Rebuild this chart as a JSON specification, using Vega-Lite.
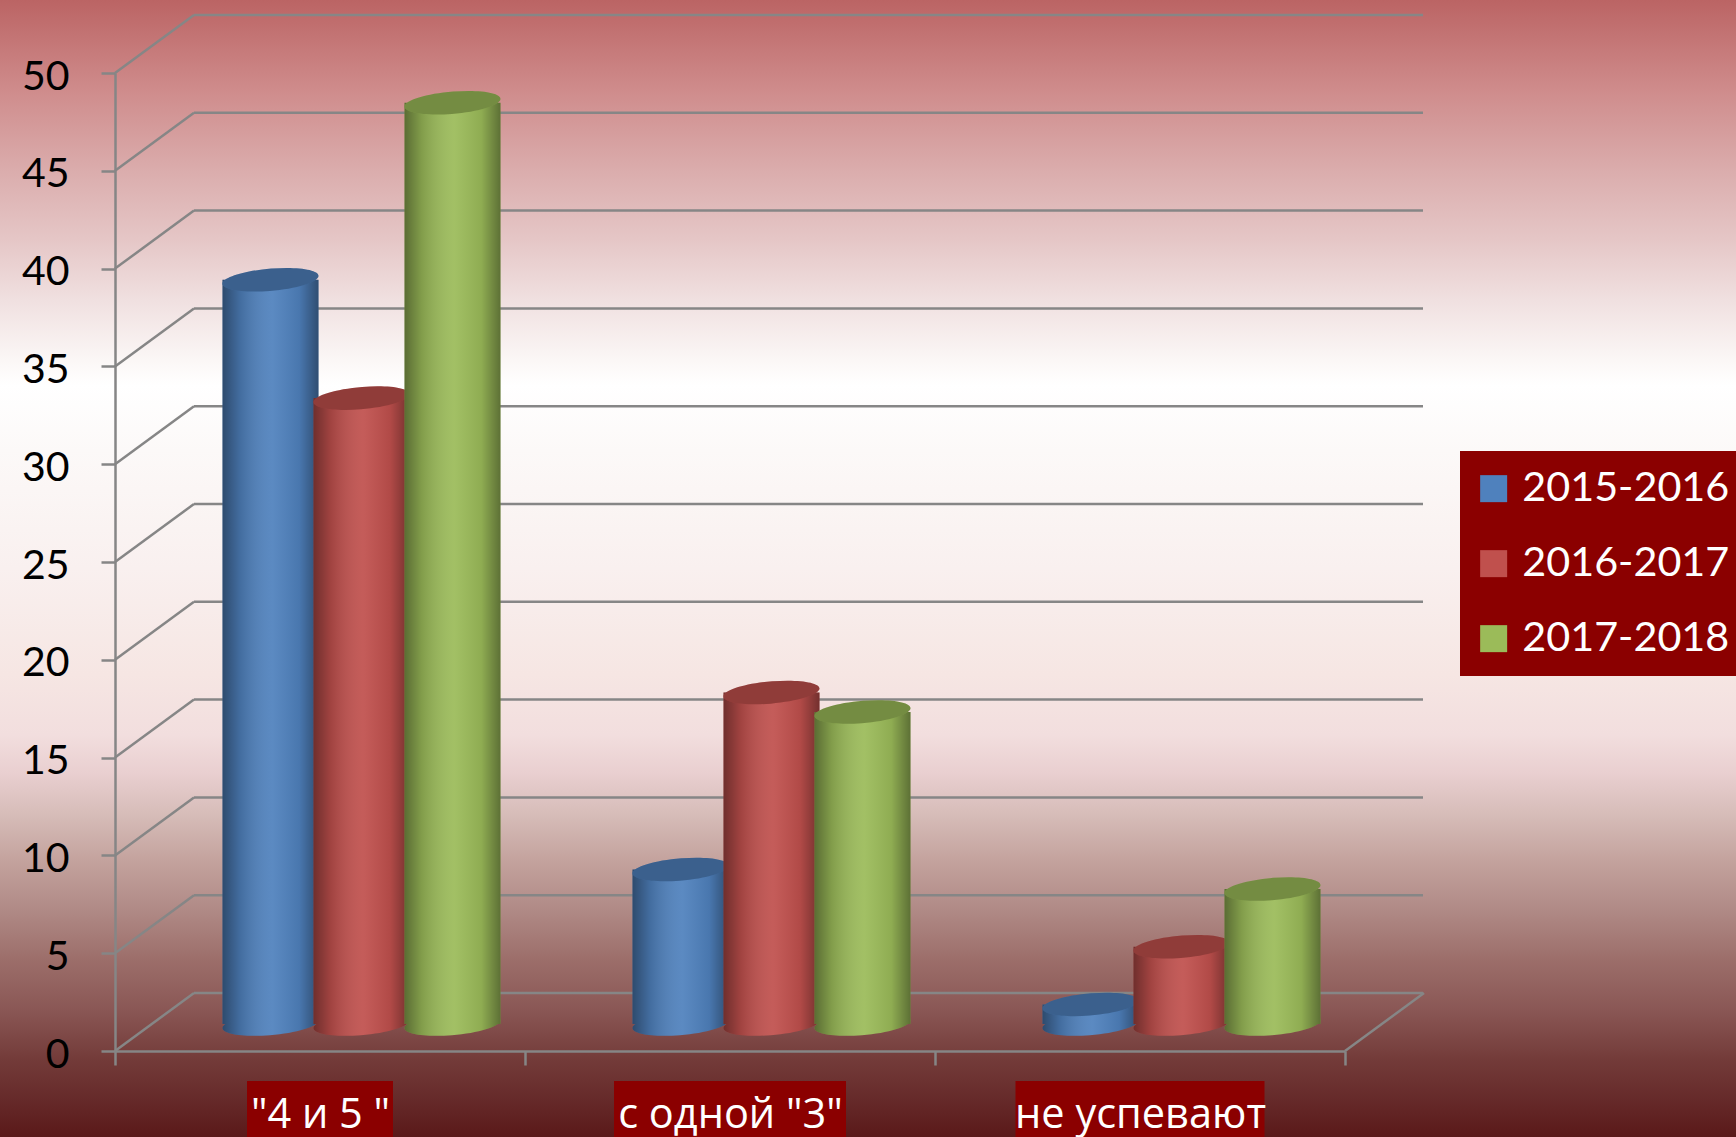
{
"$schema":"https://vega.github.io/schema/vega-lite/v6.json",
"width":1736,"height":1137,"autosize":"none","padding":0,
"background":"#ffffff",
"view":{"stroke":null,"fill":{"gradient":"linear","x1":0,"y1":0,"x2":0,"y2":1,"stops":[
{"offset":0,"color":"#bb6464"},{"offset":0.08,"color":"#cf8c8c"},{"offset":0.158,"color":"#dcb0b0"},{"offset":0.21,"color":"#e5c6c6"},{"offset":0.264,"color":"#f0e0e0"},{"offset":0.317,"color":"#fbf7f6"},{"offset":0.339,"color":"#ffffff"},{"offset":0.396,"color":"#fcf9f8"},{"offset":0.5,"color":"#f9f0ef"},{"offset":0.593,"color":"#f6e6e3"},{"offset":0.646,"color":"#f2dede"},{"offset":0.68,"color":"#e9cfd0"},{"offset":0.717,"color":"#d6bcb8"},{"offset":0.756,"color":"#c4a39e"},{"offset":0.8,"color":"#b08a86"},{"offset":0.844,"color":"#9c6e6a"},{"offset":0.888,"color":"#8a5755"},{"offset":0.932,"color":"#733b39"},{"offset":0.967,"color":"#662a2a"},{"offset":1,"color":"#5a1919"}]}},
"config":{"font":"Lato"},
"datasets":{
"bars":[
{"category":"\"4 и 5 \"","series":"2015-2016","value":38.05},
{"category":"\"4 и 5 \"","series":"2016-2017","value":32},
{"category":"\"4 и 5 \"","series":"2017-2018","value":47.1},
{"category":"с одной \"3\"","series":"2015-2016","value":7.9},
{"category":"с одной \"3\"","series":"2016-2017","value":16.95},
{"category":"с одной \"3\"","series":"2017-2018","value":15.95},
{"category":"не успевают","series":"2015-2016","value":1},
{"category":"не успевают","series":"2016-2017","value":3.95},
{"category":"не успевают","series":"2017-2018","value":6.9}],
"ticks":[{"v":0},{"v":5},{"v":10},{"v":15},{"v":20},{"v":25},{"v":30},{"v":35},{"v":40},{"v":45},{"v":50}],
"cats":[{"category":"\"4 и 5 \""},{"category":"с одной \"3\""},{"category":"не успевают"}]
},
"encoding":{
 "x":{"field":"category","type":"nominal",
  "sort":["\"4 и 5 \"","с одной \"3\"","не успевают"],
  "scale":{"domain":["\"4 и 5 \"","с одной \"3\"","не успевают"],"range":[115,1345],"paddingInner":0,"paddingOuter":0},
  "axis":{"orient":"bottom","offset":-86,"title":null,"labelAngle":0,"tickBand":"extent","tickSize":14,"tickColor":"#868686","tickWidth":2.5,"domainColor":"#868686","domainWidth":2.5,"labelColor":"#ffffff","labelFont":"Open Sans","labelFontSize":41.5,"labelPadding":29,"labelBaseline":"top","zindex":1,"labelLimit":400,"labelOverlap":false}}
},
"layer":[
{"data":{"name":"ticks"},"mark":{"type":"rule","stroke":"#868686","strokeWidth":2.5,"xOffset":-205,"x2Offset":-126,"y2Offset":-58},
 "encoding":{"x":{"datum":"\"4 и 5 \"","type":"nominal"},"x2":{"datum":"\"4 и 5 \""},
 "y":{"field":"v","type":"quantitative","scale":{"domain":[0,50],"range":[1051,73],"nice":false,"zero":false},
  "axis":{"orient":"left","offset":-115,"title":null,"values":[0,5,10,15,20,25,30,35,40,45,50],"tickSize":14,"tickColor":"#868686","tickWidth":2.5,"domainColor":"#868686","domainWidth":2.5,"labelColor":"#000000","labelFont":"Lato","labelFontSize":41,"labelPadding":32,"labelOffset":4,"grid":false,"zindex":0}},
 "y2":{"field":"v"}}},
{"data":{"name":"ticks"},"mark":{"type":"rule","stroke":"#868686","strokeWidth":2.5,"xOffset":-126,"x2Offset":283,"yOffset":-58,"y2Offset":-58},
 "encoding":{"x":{"datum":"\"4 и 5 \"","type":"nominal"},"x2":{"datum":"не успевают"},"y":{"field":"v","type":"quantitative"},"y2":{"field":"v"}}},
{"data":{"values":[{"v":0}]},"mark":{"type":"rule","stroke":"#868686","strokeWidth":2.5,"xOffset":205,"x2Offset":284,"y2Offset":-58},
 "encoding":{"x":{"datum":"не успевают","type":"nominal"},"x2":{"datum":"не успевают"},"y":{"field":"v","type":"quantitative"},"y2":{"field":"v"}}},
{"data":{"name":"cats"},"mark":{"type":"bar","fill":"#8b0000"},
 "encoding":{"y":{"datum":-1.53},"y2":{"datum":-4.5},
 "size":{"condition":[{"test":"datum.category==='не успевают'","value":249},{"test":"datum.category==='с одной \"3\"'","value":232}],"value":146}}},
{"data":{"name":"bars"},"transform":[{"filter":"datum.series==='2015-2016'"}],
 "encoding":{"xOffset":{"field":"series","type":"nominal","scale":{"domain":["2015-2016","2016-2017","2017-2018"],"range":[110,383],"paddingInner":0,"paddingOuter":0}}},
 "layer":[
 {"mark":{"type":"point","filled":true,"opacity":1,"size":9216,"shape":"M-1,0.08 A1,0.23 -5 1 1 1,-0.08 A1,0.23 -5 1 1 -1,0.08 Z","yOffset":-27},
  "encoding":{"y":{"datum":0},"fill":{"field":"series","type":"nominal","title":null,"scale":{"domain":["2015-2016","2016-2017","2017-2018"],"range":["#4f81bd","#c0504d","#9bbb59"]},
  "legend":{"orient":"none","legendX":1460,"legendY":451,"fillColor":"#8b0000","padding":17,"symbolType":"square","symbolSize":729,"symbolOffset":-4,"symbolStrokeWidth":0,"symbolOpacity":1,"labelColor":"#ffffff","labelFont":"Lato","labelFontSize":41.3,"labelOffset":8,"rowPadding":33,"labelLimit":300}}}},
 {"mark":{"type":"point","filled":true,"opacity":1,"size":9216,"shape":"M-1,0.08 A1,0.23 -5 1 1 1,-0.08 A1,0.23 -5 1 1 -1,0.08 Z","yOffset":-27,
  "fill":{"gradient":"linear","x1":0,"y1":0,"x2":1,"y2":0,"stops":[{"offset":0,"color":"rgba(0,0,0,0.42)"},{"offset":0.18,"color":"rgba(0,0,0,0.16)"},{"offset":0.52,"color":"rgba(255,255,255,0.07)"},{"offset":0.8,"color":"rgba(0,0,0,0.08)"},{"offset":1,"color":"rgba(0,0,0,0.4)"}]}},
  "encoding":{"y":{"datum":0}}},
 {"mark":{"type":"bar","width":96,"yOffset":-27,"y2Offset":-27},
  "encoding":{"y":{"field":"value","type":"quantitative"},"y2":{"datum":0},"fill":{"field":"series","type":"nominal"}}},
 {"mark":{"type":"bar","width":96,"yOffset":-27,"y2Offset":-27,
  "fill":{"gradient":"linear","x1":0,"y1":0,"x2":1,"y2":0,"stops":[{"offset":0,"color":"rgba(0,0,0,0.42)"},{"offset":0.18,"color":"rgba(0,0,0,0.16)"},{"offset":0.52,"color":"rgba(255,255,255,0.07)"},{"offset":0.8,"color":"rgba(0,0,0,0.08)"},{"offset":1,"color":"rgba(0,0,0,0.4)"}]}},
  "encoding":{"y":{"field":"value","type":"quantitative"},"y2":{"datum":0}}},
 {"mark":{"type":"point","filled":true,"opacity":1,"size":9216,"shape":"M-1,0.08 A1,0.23 -5 1 1 1,-0.08 A1,0.23 -5 1 1 -1,0.08 Z","yOffset":-27},
  "encoding":{"y":{"field":"value","type":"quantitative"},"fill":{"field":"series","type":"nominal"}}},
 {"mark":{"type":"point","filled":true,"fill":"#000000","opacity":0.25,"size":9216,"shape":"M-1,0.08 A1,0.23 -5 1 1 1,-0.08 A1,0.23 -5 1 1 -1,0.08 Z","yOffset":-27},
  "encoding":{"y":{"field":"value","type":"quantitative"}}}
 ]},
{"data":{"name":"bars"},"transform":[{"filter":"datum.series==='2016-2017'"}],
 "encoding":{"xOffset":{"field":"series","type":"nominal"}},
 "layer":[
 {"mark":{"type":"point","filled":true,"opacity":1,"size":9216,"shape":"M-1,0.08 A1,0.23 -5 1 1 1,-0.08 A1,0.23 -5 1 1 -1,0.08 Z","yOffset":-27},
  "encoding":{"y":{"datum":0},"fill":{"field":"series","type":"nominal"}}},
 {"mark":{"type":"point","filled":true,"opacity":1,"size":9216,"shape":"M-1,0.08 A1,0.23 -5 1 1 1,-0.08 A1,0.23 -5 1 1 -1,0.08 Z","yOffset":-27,
  "fill":{"gradient":"linear","x1":0,"y1":0,"x2":1,"y2":0,"stops":[{"offset":0,"color":"rgba(0,0,0,0.42)"},{"offset":0.18,"color":"rgba(0,0,0,0.16)"},{"offset":0.52,"color":"rgba(255,255,255,0.07)"},{"offset":0.8,"color":"rgba(0,0,0,0.08)"},{"offset":1,"color":"rgba(0,0,0,0.4)"}]}},
  "encoding":{"y":{"datum":0}}},
 {"mark":{"type":"bar","width":96,"yOffset":-27,"y2Offset":-27},
  "encoding":{"y":{"field":"value","type":"quantitative"},"y2":{"datum":0},"fill":{"field":"series","type":"nominal"}}},
 {"mark":{"type":"bar","width":96,"yOffset":-27,"y2Offset":-27,
  "fill":{"gradient":"linear","x1":0,"y1":0,"x2":1,"y2":0,"stops":[{"offset":0,"color":"rgba(0,0,0,0.42)"},{"offset":0.18,"color":"rgba(0,0,0,0.16)"},{"offset":0.52,"color":"rgba(255,255,255,0.07)"},{"offset":0.8,"color":"rgba(0,0,0,0.08)"},{"offset":1,"color":"rgba(0,0,0,0.4)"}]}},
  "encoding":{"y":{"field":"value","type":"quantitative"},"y2":{"datum":0}}},
 {"mark":{"type":"point","filled":true,"opacity":1,"size":9216,"shape":"M-1,0.08 A1,0.23 -5 1 1 1,-0.08 A1,0.23 -5 1 1 -1,0.08 Z","yOffset":-27},
  "encoding":{"y":{"field":"value","type":"quantitative"},"fill":{"field":"series","type":"nominal"}}},
 {"mark":{"type":"point","filled":true,"fill":"#000000","opacity":0.25,"size":9216,"shape":"M-1,0.08 A1,0.23 -5 1 1 1,-0.08 A1,0.23 -5 1 1 -1,0.08 Z","yOffset":-27},
  "encoding":{"y":{"field":"value","type":"quantitative"}}}
 ]},
{"data":{"name":"bars"},"transform":[{"filter":"datum.series==='2017-2018'"}],
 "encoding":{"xOffset":{"field":"series","type":"nominal"}},
 "layer":[
 {"mark":{"type":"point","filled":true,"opacity":1,"size":9216,"shape":"M-1,0.08 A1,0.23 -5 1 1 1,-0.08 A1,0.23 -5 1 1 -1,0.08 Z","yOffset":-27},
  "encoding":{"y":{"datum":0},"fill":{"field":"series","type":"nominal"}}},
 {"mark":{"type":"point","filled":true,"opacity":1,"size":9216,"shape":"M-1,0.08 A1,0.23 -5 1 1 1,-0.08 A1,0.23 -5 1 1 -1,0.08 Z","yOffset":-27,
  "fill":{"gradient":"linear","x1":0,"y1":0,"x2":1,"y2":0,"stops":[{"offset":0,"color":"rgba(0,0,0,0.42)"},{"offset":0.18,"color":"rgba(0,0,0,0.16)"},{"offset":0.52,"color":"rgba(255,255,255,0.07)"},{"offset":0.8,"color":"rgba(0,0,0,0.08)"},{"offset":1,"color":"rgba(0,0,0,0.4)"}]}},
  "encoding":{"y":{"datum":0}}},
 {"mark":{"type":"bar","width":96,"yOffset":-27,"y2Offset":-27},
  "encoding":{"y":{"field":"value","type":"quantitative"},"y2":{"datum":0},"fill":{"field":"series","type":"nominal"}}},
 {"mark":{"type":"bar","width":96,"yOffset":-27,"y2Offset":-27,
  "fill":{"gradient":"linear","x1":0,"y1":0,"x2":1,"y2":0,"stops":[{"offset":0,"color":"rgba(0,0,0,0.42)"},{"offset":0.18,"color":"rgba(0,0,0,0.16)"},{"offset":0.52,"color":"rgba(255,255,255,0.07)"},{"offset":0.8,"color":"rgba(0,0,0,0.08)"},{"offset":1,"color":"rgba(0,0,0,0.4)"}]}},
  "encoding":{"y":{"field":"value","type":"quantitative"},"y2":{"datum":0}}},
 {"mark":{"type":"point","filled":true,"opacity":1,"size":9216,"shape":"M-1,0.08 A1,0.23 -5 1 1 1,-0.08 A1,0.23 -5 1 1 -1,0.08 Z","yOffset":-27},
  "encoding":{"y":{"field":"value","type":"quantitative"},"fill":{"field":"series","type":"nominal"}}},
 {"mark":{"type":"point","filled":true,"fill":"#000000","opacity":0.25,"size":9216,"shape":"M-1,0.08 A1,0.23 -5 1 1 1,-0.08 A1,0.23 -5 1 1 -1,0.08 Z","yOffset":-27},
  "encoding":{"y":{"field":"value","type":"quantitative"}}}
 ]}
]
}
